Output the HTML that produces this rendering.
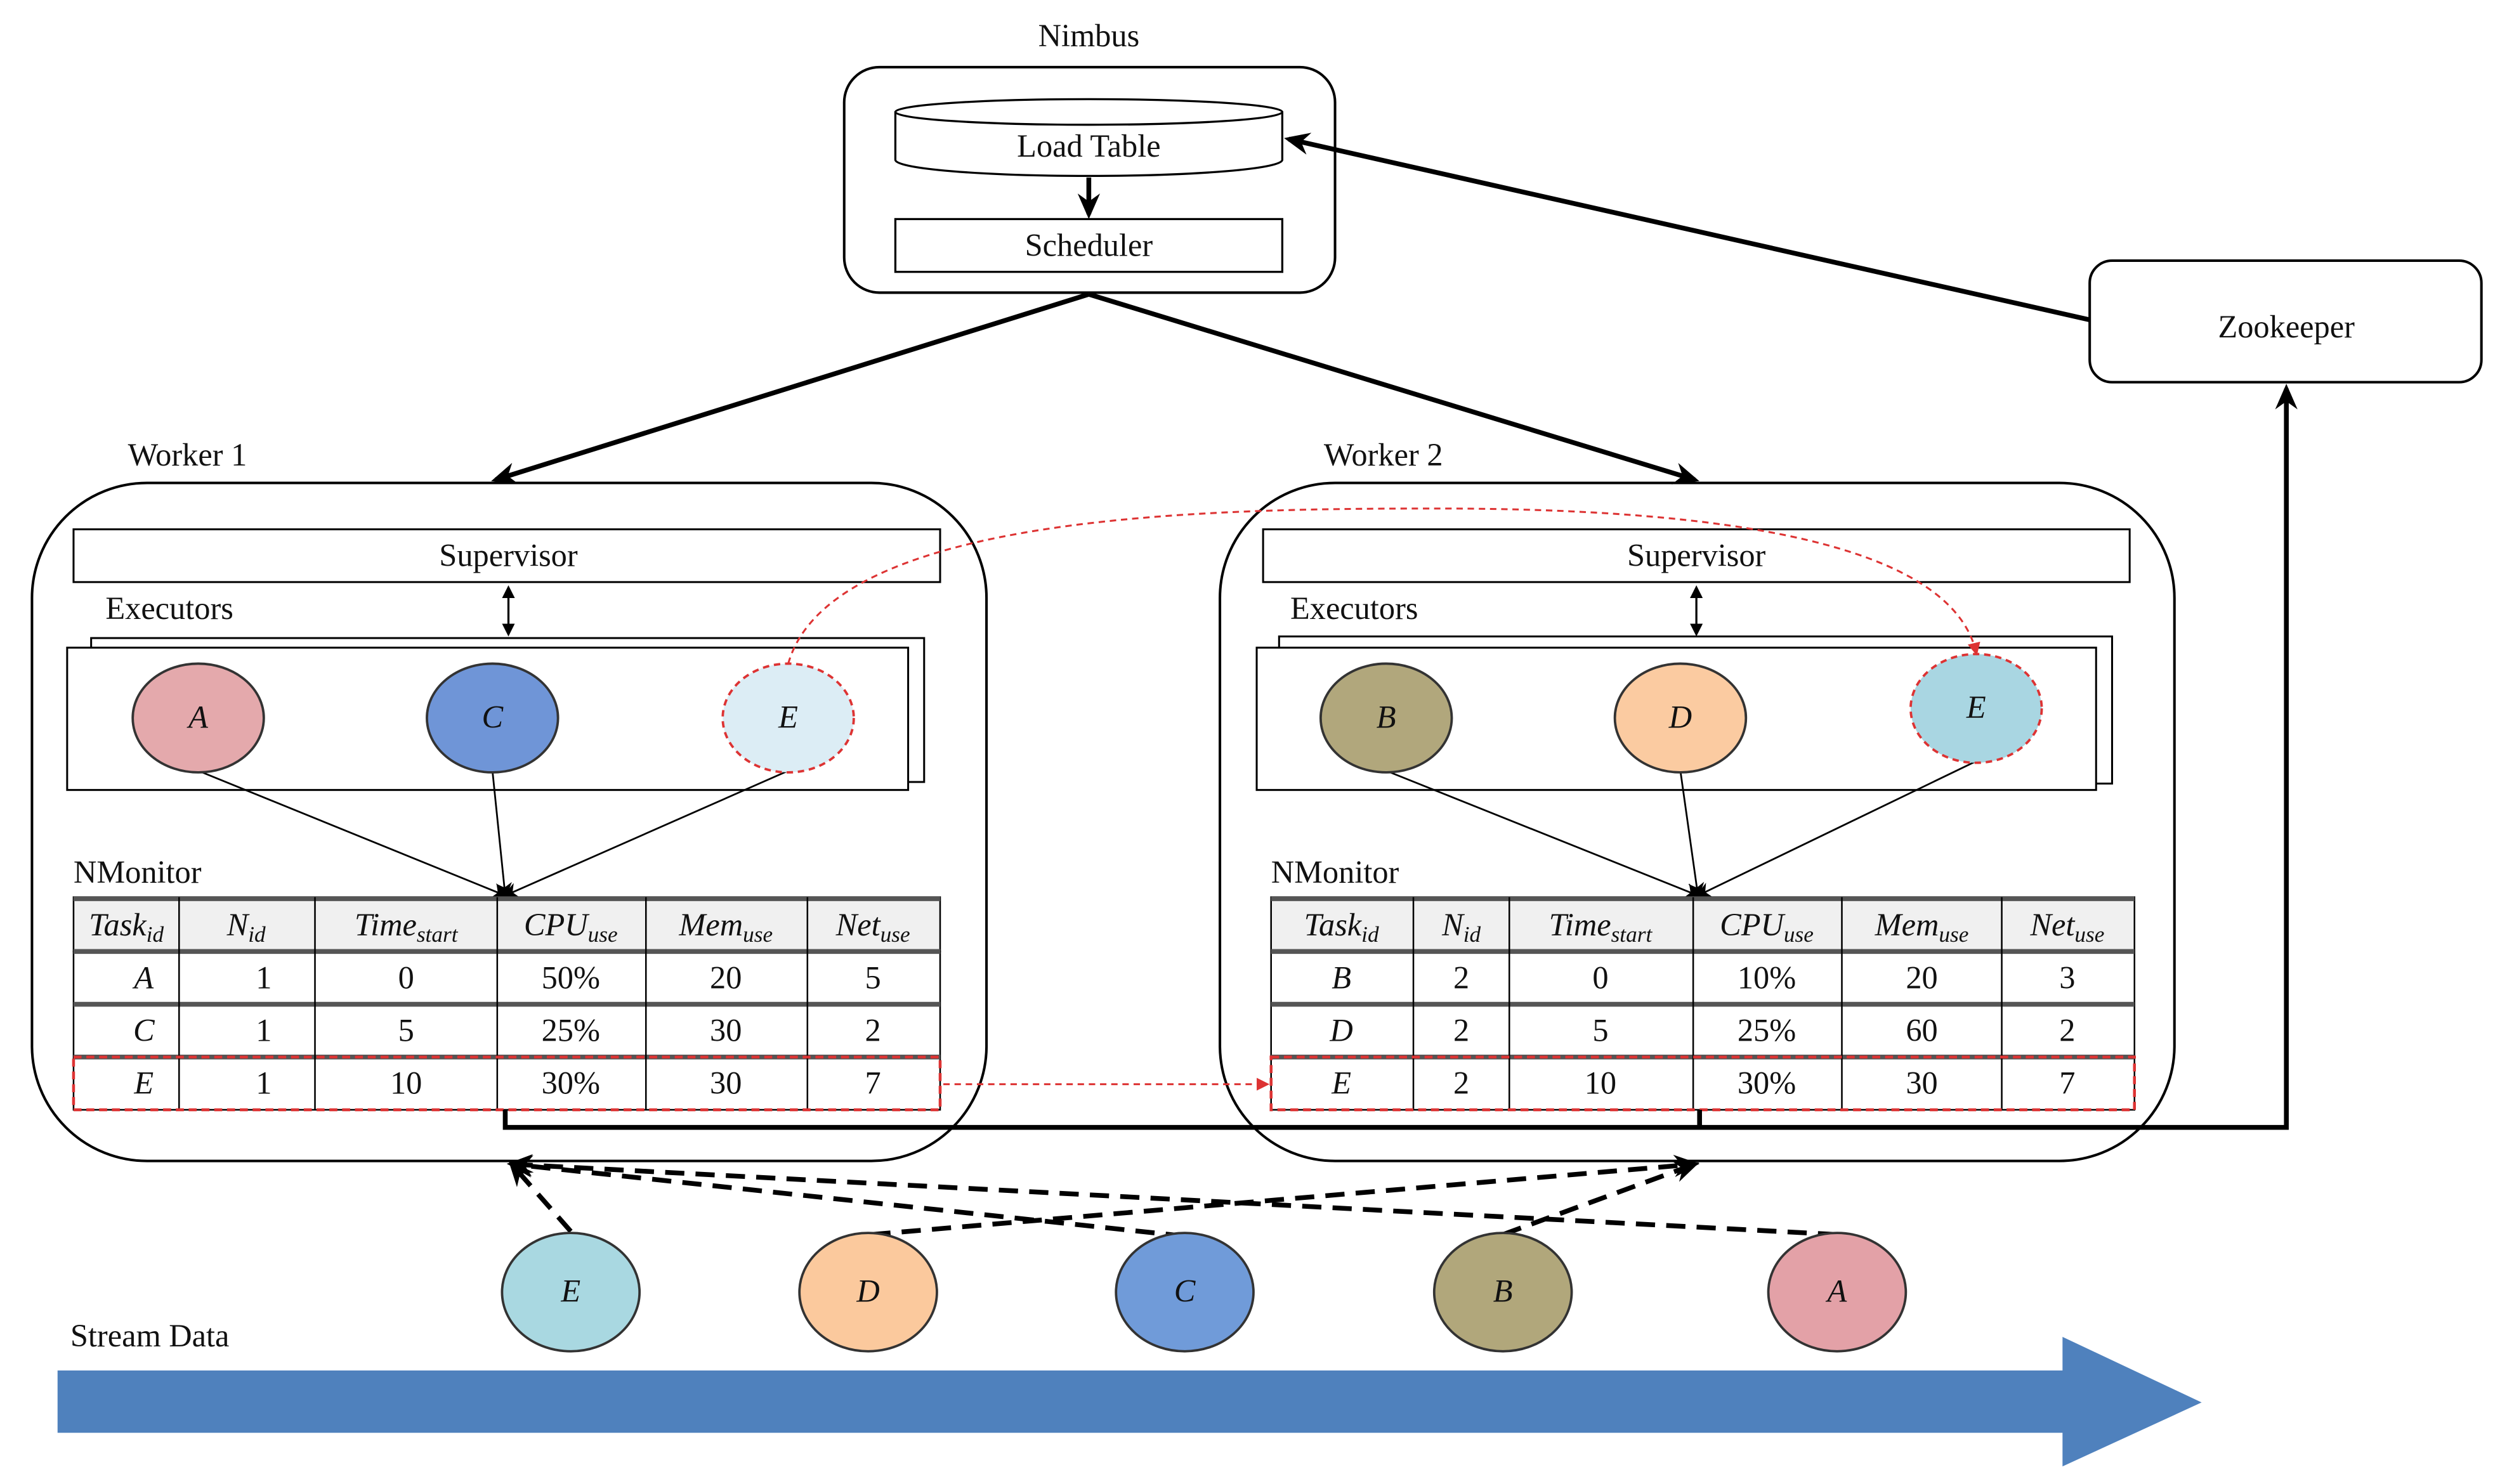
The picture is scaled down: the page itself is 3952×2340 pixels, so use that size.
<!DOCTYPE html>
<html><head><meta charset="utf-8"><style>
html,body{margin:0;padding:0;background:#fff}
svg{display:block}
text{font-family:"Liberation Serif",serif;fill:#111}
.t{font-size:20px}
.m{font-style:italic;font-size:20px}
</style></head><body>
<svg width="3952" height="2340" viewBox="0 0 1568 928" preserveAspectRatio="none" xmlns="http://www.w3.org/2000/svg">
<defs>
<marker id="ah" markerWidth="10" markerHeight="10" refX="8" refY="5" orient="auto" markerUnits="userSpaceOnUse"><path d="M0,0 L10,5 L0,10 L3,5 Z" fill="#000"/></marker>
<marker id="ahb" markerWidth="16" markerHeight="14" refX="13" refY="7" orient="auto" markerUnits="userSpaceOnUse"><path d="M0,0 L16,7 L0,14 L5,7 Z" fill="#000"/></marker>
<marker id="ahs" markerWidth="8" markerHeight="8" refX="6" refY="4" orient="auto" markerUnits="userSpaceOnUse"><path d="M0,0 L8,4 L0,8 Z" fill="#000"/></marker>
<marker id="ahsb" markerWidth="8" markerHeight="8" refX="2" refY="4" orient="auto" markerUnits="userSpaceOnUse"><path d="M8,0 L0,4 L8,8 Z" fill="#000"/></marker>
<marker id="ahr" markerWidth="8" markerHeight="8" refX="6" refY="4" orient="auto" markerUnits="userSpaceOnUse"><path d="M0,0 L8,4 L0,8 Z" fill="#d33"/></marker>
</defs>

<!-- Nimbus -->
<text x="681" y="29" class="t" text-anchor="middle">Nimbus</text>
<rect x="528" y="42" width="307" height="141" rx="22" fill="#fff" stroke="#000" stroke-width="1.6"/>
<path d="M560,70 L560,100 A121,10 0 0 0 802,100 L802,70" fill="#fff" stroke="#000" stroke-width="1.3"/>
<ellipse cx="681" cy="70" rx="121" ry="8" fill="#fff" stroke="#000" stroke-width="1.3"/>
<text x="681" y="98" class="t" text-anchor="middle">Load Table</text>
<line x1="681" y1="111" x2="681" y2="134" stroke="#000" stroke-width="3" marker-end="url(#ahb)"/>
<rect x="560" y="137" width="242" height="33" fill="#fff" stroke="#000" stroke-width="1.3"/>
<text x="681" y="160" class="t" text-anchor="middle">Scheduler</text>

<!-- Zookeeper -->
<rect x="1307" y="163" width="245" height="76" rx="14" fill="#fff" stroke="#000" stroke-width="1.6"/>
<text x="1430" y="211" class="t" text-anchor="middle">Zookeeper</text>
<line x1="1307" y1="200" x2="806" y2="87" stroke="#000" stroke-width="3" marker-end="url(#ahb)"/>

<line x1="681" y1="184" x2="310" y2="300" stroke="#000" stroke-width="3" marker-end="url(#ahb)"/>
<line x1="681" y1="184" x2="1060" y2="300" stroke="#000" stroke-width="3" marker-end="url(#ahb)"/>

<!-- Worker boxes -->
<text x="80" y="291" class="t">Worker 1</text>
<text x="828" y="291" class="t">Worker 2</text>
<rect x="20" y="302" width="597" height="424" rx="72" fill="none" stroke="#000" stroke-width="1.6"/>
<rect x="763" y="302" width="597" height="424" rx="72" fill="none" stroke="#000" stroke-width="1.6"/>

<!-- Supervisors -->
<rect x="46" y="331" width="542" height="33" fill="#fff" stroke="#000" stroke-width="1.2"/>
<text x="318" y="354" class="t" text-anchor="middle">Supervisor</text>
<rect x="790" y="331" width="542" height="33" fill="#fff" stroke="#000" stroke-width="1.2"/>
<text x="1061" y="354" class="t" text-anchor="middle">Supervisor</text>
<line x1="318" y1="368" x2="318" y2="396" stroke="#000" stroke-width="1.3" marker-start="url(#ahsb)" marker-end="url(#ahs)"/>
<line x1="1061" y1="368" x2="1061" y2="396" stroke="#000" stroke-width="1.3" marker-start="url(#ahsb)" marker-end="url(#ahs)"/>

<text x="66" y="387" class="t">Executors</text>
<text x="807" y="387" class="t">Executors</text>
<rect x="57" y="399" width="521" height="90" fill="#fff" stroke="#000" stroke-width="1.2"/>
<rect x="42" y="405" width="526" height="89" fill="#fff" stroke="#000" stroke-width="1.2"/>
<rect x="800" y="398" width="521" height="92" fill="#fff" stroke="#000" stroke-width="1.2"/>
<rect x="786" y="405" width="525" height="89" fill="#fff" stroke="#000" stroke-width="1.2"/>

<!-- connector lines to tables -->
<g stroke="#000" stroke-width="1.1">
<line x1="124" y1="482" x2="316" y2="560" marker-end="url(#ah)"/>
<line x1="308" y1="482" x2="316" y2="560" marker-end="url(#ah)"/>
<line x1="493" y1="482" x2="316" y2="560" marker-end="url(#ah)"/>
<line x1="867" y1="482" x2="1062" y2="560" marker-end="url(#ah)"/>
<line x1="1051" y1="482" x2="1062" y2="560" marker-end="url(#ah)"/>
<line x1="1236" y1="476" x2="1062" y2="560" marker-end="url(#ah)"/>
</g>

<!-- executor circles -->
<g stroke-width="1.5">
<ellipse cx="124" cy="449" rx="41" ry="34" fill="#e4a9ac" stroke="#333"/>
<ellipse cx="308" cy="449" rx="41" ry="34" fill="#6f95d7" stroke="#333"/>
<ellipse cx="493" cy="449" rx="41" ry="34" fill="#dcedf5" stroke="#d33" stroke-dasharray="4,3"/>
<ellipse cx="867" cy="449" rx="41" ry="34" fill="#b1a77c" stroke="#333"/>
<ellipse cx="1051" cy="449" rx="41" ry="34" fill="#fbcba1" stroke="#333"/>
<ellipse cx="1236" cy="443" rx="41" ry="34" fill="#a9d6e2" stroke="#d33" stroke-dasharray="4,3"/>
</g>
<g class="m" font-size="18">
<text x="124" y="455" class="m" text-anchor="middle" font-size="18">A</text>
<text x="308" y="455" class="m" text-anchor="middle" font-size="18">C</text>
<text x="493" y="455" class="m" text-anchor="middle" font-size="18">E</text>
<text x="867" y="455" class="m" text-anchor="middle" font-size="18">B</text>
<text x="1051" y="455" class="m" text-anchor="middle" font-size="18">D</text>
<text x="1236" y="449" class="m" text-anchor="middle" font-size="18">E</text>
</g>

<!-- red dashed curve -->
<path d="M493,415 C520,320 760,318 900,318 C1080,318 1220,340 1236,408" fill="none" stroke="#d33" stroke-width="1.2" stroke-dasharray="4,3" marker-end="url(#ahr)"/>

<!-- NMonitor tables -->
<text x="46" y="552" class="t">NMonitor</text>
<text x="795" y="552" class="t">NMonitor</text>

<g id="t1">
<rect x="46" y="561" width="542" height="34" fill="#f0f0f0" stroke="#000" stroke-width="1"/>
<rect x="46" y="595" width="542" height="99" fill="#fff" stroke="#000" stroke-width="1"/>
<g stroke="#555" stroke-width="3"><line x1="46" y1="562" x2="588" y2="562"/><line x1="46" y1="595" x2="588" y2="595"/><line x1="46" y1="628" x2="588" y2="628"/><line x1="46" y1="661" x2="588" y2="661"/></g>
<g stroke="#000" stroke-width="1"><line x1="112" y1="561" x2="112" y2="694"/><line x1="197" y1="561" x2="197" y2="694"/><line x1="311" y1="561" x2="311" y2="694"/><line x1="404" y1="561" x2="404" y2="694"/><line x1="505" y1="561" x2="505" y2="694"/></g>
</g>
<g text-anchor="middle">
<text x="79" y="585" class="m">Task<tspan font-size="14" dy="4">id</tspan></text>
<text x="154" y="585" class="m">N<tspan font-size="14" dy="4">id</tspan></text>
<text x="254" y="585" class="m">Time<tspan font-size="14" dy="4">start</tspan></text>
<text x="357" y="585" class="m">CPU<tspan font-size="14" dy="4">use</tspan></text>
<text x="454" y="585" class="m">Mem<tspan font-size="14" dy="4">use</tspan></text>
<text x="546" y="585" class="m">Net<tspan font-size="14" dy="4">use</tspan></text>
<text x="90" y="618" class="m">A</text><text x="165" y="618" class="t">1</text><text x="254" y="618" class="t">0</text><text x="357" y="618" class="t">50%</text><text x="454" y="618" class="t">20</text><text x="546" y="618" class="t">5</text>
<text x="90" y="651" class="m">C</text><text x="165" y="651" class="t">1</text><text x="254" y="651" class="t">5</text><text x="357" y="651" class="t">25%</text><text x="454" y="651" class="t">30</text><text x="546" y="651" class="t">2</text>
<text x="90" y="684" class="m">E</text><text x="165" y="684" class="t">1</text><text x="254" y="684" class="t">10</text><text x="357" y="684" class="t">30%</text><text x="454" y="684" class="t">30</text><text x="546" y="684" class="t">7</text>
</g>

<g>
<rect x="795" y="561" width="540" height="34" fill="#f0f0f0" stroke="#000" stroke-width="1"/>
<rect x="795" y="595" width="540" height="99" fill="#fff" stroke="#000" stroke-width="1"/>
<g stroke="#555" stroke-width="3"><line x1="795" y1="562" x2="1335" y2="562"/><line x1="795" y1="595" x2="1335" y2="595"/><line x1="795" y1="628" x2="1335" y2="628"/><line x1="795" y1="661" x2="1335" y2="661"/></g>
<g stroke="#000" stroke-width="1"><line x1="884" y1="561" x2="884" y2="694"/><line x1="944" y1="561" x2="944" y2="694"/><line x1="1059" y1="561" x2="1059" y2="694"/><line x1="1152" y1="561" x2="1152" y2="694"/><line x1="1252" y1="561" x2="1252" y2="694"/></g>
</g>
<g text-anchor="middle">
<text x="839" y="585" class="m">Task<tspan font-size="14" dy="4">id</tspan></text>
<text x="914" y="585" class="m">N<tspan font-size="14" dy="4">id</tspan></text>
<text x="1001" y="585" class="m">Time<tspan font-size="14" dy="4">start</tspan></text>
<text x="1105" y="585" class="m">CPU<tspan font-size="14" dy="4">use</tspan></text>
<text x="1202" y="585" class="m">Mem<tspan font-size="14" dy="4">use</tspan></text>
<text x="1293" y="585" class="m">Net<tspan font-size="14" dy="4">use</tspan></text>
<text x="839" y="618" class="m">B</text><text x="914" y="618" class="t">2</text><text x="1001" y="618" class="t">0</text><text x="1105" y="618" class="t">10%</text><text x="1202" y="618" class="t">20</text><text x="1293" y="618" class="t">3</text>
<text x="839" y="651" class="m">D</text><text x="914" y="651" class="t">2</text><text x="1001" y="651" class="t">5</text><text x="1105" y="651" class="t">25%</text><text x="1202" y="651" class="t">60</text><text x="1293" y="651" class="t">2</text>
<text x="839" y="684" class="m">E</text><text x="914" y="684" class="t">2</text><text x="1001" y="684" class="t">10</text><text x="1105" y="684" class="t">30%</text><text x="1202" y="684" class="t">30</text><text x="1293" y="684" class="t">7</text>
</g>

<rect x="46" y="661" width="542" height="33" fill="none" stroke="#d33" stroke-width="1.8" stroke-dasharray="5,3"/>
<rect x="795" y="661" width="540" height="33" fill="none" stroke="#d33" stroke-width="1.8" stroke-dasharray="5,3"/>
<line x1="590" y1="678" x2="792" y2="678" stroke="#d33" stroke-width="1.2" stroke-dasharray="4,3" marker-end="url(#ahr)"/>

<!-- thick feedback line -->
<path d="M316,694 L316,705 L1430,705 L1430,243" fill="none" stroke="#000" stroke-width="3" marker-end="url(#ahb)"/>
<line x1="1063" y1="694" x2="1063" y2="705" stroke="#000" stroke-width="3"/>

<!-- dashed stream arrows -->
<g stroke="#000" stroke-width="3" stroke-dasharray="12,7" fill="none">
<line x1="357" y1="770" x2="320" y2="728" marker-end="url(#ahb)"/>
<line x1="741" y1="773" x2="320" y2="728" marker-end="url(#ahb)"/>
<line x1="1149" y1="772" x2="320" y2="728" marker-end="url(#ahb)"/>
<line x1="545" y1="772" x2="1060" y2="728" marker-end="url(#ahb)"/>
<line x1="940" y1="772" x2="1060" y2="728" marker-end="url(#ahb)"/>
</g>

<g stroke="#333" stroke-width="1.5">
<ellipse cx="357" cy="808" rx="43" ry="37" fill="#a9d8e1"/>
<ellipse cx="543" cy="808" rx="43" ry="37" fill="#fbc99d"/>
<ellipse cx="741" cy="808" rx="43" ry="37" fill="#709bd9"/>
<ellipse cx="940" cy="808" rx="43" ry="37" fill="#b1a77b"/>
<ellipse cx="1149" cy="808" rx="43" ry="37" fill="#e3a1a7"/>
</g>
<text x="357" y="814" class="m" font-size="18" text-anchor="middle">E</text>
<text x="543" y="814" class="m" font-size="18" text-anchor="middle">D</text>
<text x="741" y="814" class="m" font-size="18" text-anchor="middle">C</text>
<text x="940" y="814" class="m" font-size="18" text-anchor="middle">B</text>
<text x="1149" y="814" class="m" font-size="18" text-anchor="middle">A</text>

<text x="44" y="842" class="t">Stream Data</text>
<path d="M36,857 L1290,857 L1290,836 L1377,877 L1290,917 L1290,896 L36,896 Z" fill="#4f81bd"/>
</svg>
</body></html>
